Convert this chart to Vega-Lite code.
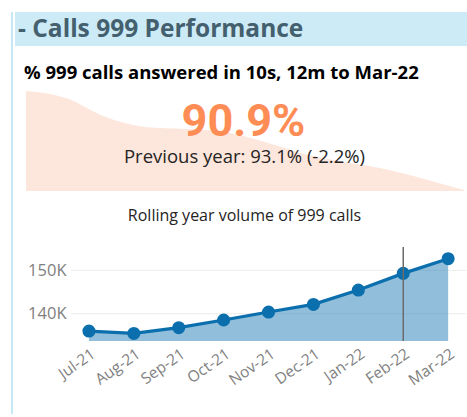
{
  "$schema": "https://vega.github.io/schema/vega-lite/v6.json",
  "background": "white",
  "padding": {"left": 9, "top": 12, "right": 0, "bottom": 0},
  "config": {"view": {"stroke": null}, "font": "Open Sans"},
  "datasets": {
    "rate": [
      {"month": "Apr-21", "rate": 93.5},
      {"month": "May-21", "rate": 93.29},
      {"month": "Jun-21", "rate": 92.72},
      {"month": "Jul-21", "rate": 92.42},
      {"month": "Aug-21", "rate": 92.36},
      {"month": "Sep-21", "rate": 92.27},
      {"month": "Oct-21", "rate": 91.97},
      {"month": "Nov-21", "rate": 91.61},
      {"month": "Dec-21", "rate": 91.37},
      {"month": "Jan-22", "rate": 91.16},
      {"month": "Feb-22", "rate": 90.86},
      {"month": "Mar-22", "rate": 90.53}
    ],
    "vol": [
      {"month": "Jul-21", "volume": 136000},
      {"month": "Aug-21", "volume": 135450},
      {"month": "Sep-21", "volume": 136770},
      {"month": "Oct-21", "volume": 138550},
      {"month": "Nov-21", "volume": 140390},
      {"month": "Dec-21", "volume": 142150},
      {"month": "Jan-22", "volume": 145470},
      {"month": "Feb-22", "volume": 149310},
      {"month": "Mar-22", "volume": 152700}
    ]
  },
  "spacing": 0,
  "hconcat": [
    {
      "width": 2,
      "height": 402,
      "view": {"fill": "#c5e7f6"},
      "data": {"values": [{"k": 1}]},
      "mark": {"type": "point", "opacity": 0},
      "encoding": {}
    },
    {
      "spacing": 17,
      "vconcat": [
        {
          "width": 455,
          "height": 34,
          "view": {"fill": "#cdebf7"},
          "data": {"values": [{"pos": 0, "label": "- Calls 999 Performance"}]},
          "mark": {"type": "text", "align": "left", "baseline": "middle", "dx": 3, "dy": 1, "fontSize": 24.5, "fontWeight": "bold", "color": "#44606f"},
          "encoding": {
            "x": {"field": "pos", "type": "quantitative", "scale": {"domain": [0, 1]}, "axis": null},
            "text": {"field": "label"}
          }
        },
        {
          "width": 449,
          "height": 100,
          "title": {"text": "% 999 calls answered in 10s, 12m to Mar-22", "anchor": "start", "frame": "group", "fontSize": 18.5, "fontWeight": "bold", "color": "#000000", "offset": 9, "dx": 9},
          "layer": [
            {
              "data": {"name": "rate"},
              "mark": {"type": "area", "color": "#fde6dc", "interpolate": "monotone", "clip": true},
              "encoding": {
                "x": {"field": "month", "type": "ordinal", "sort": null, "scale": {"type": "point", "padding": 0.138, "align": 1}, "axis": null},
                "y": {"field": "rate", "type": "quantitative", "scale": {"domain": [90.5, 93.5], "zero": false, "nice": false}, "axis": null}
              }
            },
            {
              "data": {"values": [{"t": "90.9%"}]},
              "mark": {"type": "text", "font": "Roboto", "fontSize": 45, "fontWeight": "bold", "color": "#fe8c55", "baseline": "middle", "dx": 4, "dy": -19},
              "encoding": {"text": {"field": "t"}}
            },
            {
              "data": {"values": [{"t": "Previous year: 93.1% (-2.2%)"}]},
              "mark": {"type": "text", "fontSize": 18.5, "color": "#252423", "baseline": "middle", "dx": 5, "dy": 16},
              "encoding": {"text": {"field": "t"}}
            }
          ]
        },
        {
          "width": 449,
          "height": 94,
          "title": {"text": "Rolling year volume of 999 calls", "anchor": "middle", "frame": "group", "dx": 5, "fontSize": 16, "fontWeight": "normal", "color": "#252423", "offset": 22},
          "encoding": {
            "x": {"field": "month", "type": "ordinal", "sort": null,
              "scale": {"type": "point", "padding": 1.176, "align": 0.8235, "domain": ["Jul-21", "Aug-21", "Sep-21", "Oct-21", "Nov-21", "Dec-21", "Jan-22", "Feb-22", "Mar-22"]},
              "axis": {"labelAngle": -35, "labelFontSize": 15.5, "labelColor": "#7f7f7f", "ticks": false, "domain": false, "grid": false, "labelPadding": 5, "title": "a", "titleColor": "white", "titleFontSize": 10, "titlePadding": 0}}
          },
          "layer": [
            {
              "encoding": {
                "y": {"field": "volume", "type": "quantitative", "scale": {"domain": [133700, 155400], "zero": false, "nice": false},
                  "axis": {"values": [140000, 150000], "labelExpr": "datum.value / 1000 + 'K'", "labelFontSize": 16.5, "labelColor": "#7f7f7f", "ticks": false, "tickSize": 0, "domain": false, "grid": false, "labelPadding": 15, "offset": -66, "title": null}}
              },
              "layer": [
                {
                  "data": {"values": [{"volume": 140000}, {"volume": 150000}]},
                  "mark": {"type": "rule", "color": "#ececec", "strokeWidth": 1, "xOffset": -18, "x2Offset": 18},
                  "encoding": {"x": {"datum": "Jul-21"}, "x2": {"datum": "Mar-22"}}
                },
                {
                  "data": {"name": "vol"},
                  "layer": [
                    {"mark": {"type": "area", "color": "#0b6fae", "opacity": 0.45, "clip": true}},
                    {"mark": {"type": "line", "color": "#0b6fae", "strokeWidth": 3.2}},
                    {"mark": {"type": "circle", "color": "#0b6fae", "size": 170, "opacity": 1}}
                  ]
                }
              ]
            },
            {
              "data": {"values": [{"month": "Feb-22"}]},
              "mark": {"type": "rule", "color": "#6b6b6b", "strokeWidth": 1.5},
              "encoding": {}
            }
          ]
        },
        {
          "width": 455,
          "height": 2,
          "view": {"fill": "#c5e7f6"},
          "data": {"values": [{"k": 1}]},
          "mark": {"type": "point", "opacity": 0},
          "encoding": {}
        }
      ]
    }
  ]
}
